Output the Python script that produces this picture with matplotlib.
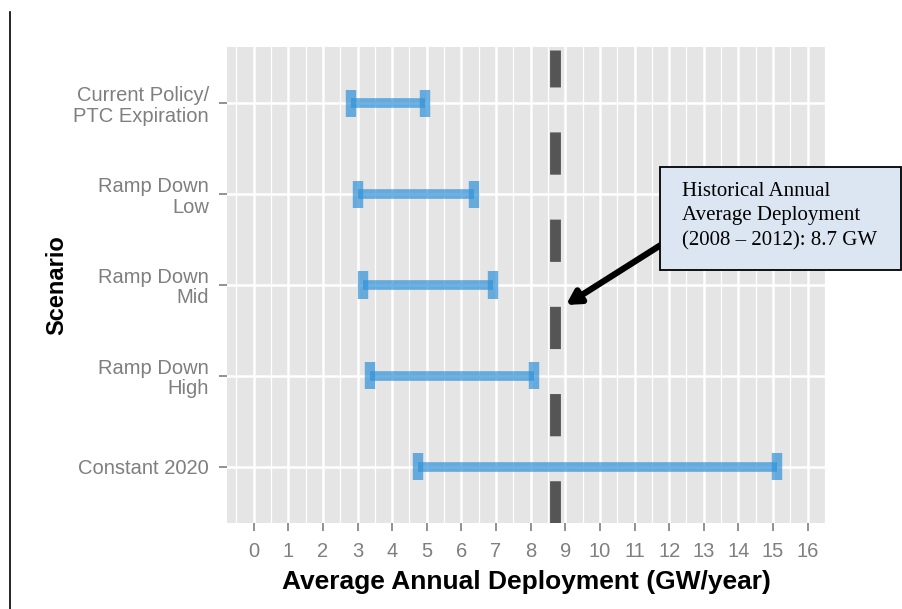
import matplotlib
matplotlib.use("Agg")
import matplotlib.pyplot as plt
from matplotlib.lines import Line2D
from matplotlib.patches import Rectangle
import numpy as np

plt.rcParams['font.family'] = ['Liberation Sans', 'DejaVu Sans']

# data
scenarios = ["Current Policy/\nPTC Expiration", "Ramp Down\nLow", "Ramp Down\nMid",
             "Ramp Down\nHigh", "Constant 2020"]
low = [2.8, 3.0, 3.15, 3.35, 4.75]
high = [4.95, 6.35, 6.9, 8.1, 15.1]
historical = 8.7
note_lines = ["Historical Annual", "Average Deployment", "(2008 \u2013 2012): 8.7 GW"]

W, H = 903, 609
fig = plt.figure(figsize=(W / 100, H / 100), dpi=100)


def px(x, y):
    # figure pixel -> figure fraction
    return x / W, 1 - y / H


ax = fig.add_axes([227 / W, 1 - 523 / H, (825 - 227) / W, (523 - 47) / H])
ax.set_facecolor('#e5e5e5')
for s in ax.spines.values():
    s.set_visible(False)

ypos = np.arange(1, len(scenarios) + 1)
ax.set_xlim(-0.77, 16.26)
ax.set_ylim(5.62, 0.38)

# grid like ggplot
ax.set_xticks(np.arange(0, 17))
ax.set_xticks(np.arange(-0.5, 16.6, 1), minor=True)
ax.set_yticks(ypos)
ax.set_yticklabels(scenarios, linespacing=1.1)
ax.grid(which='major', axis='both', color='white', lw=1.8)
ax.grid(which='minor', axis='x', color='white', lw=0.9)
ax.set_axisbelow(True)
ax.tick_params(which='minor', length=0)
ax.tick_params(which='major', colors='#7f7f7f', labelcolor='#7f7f7f',
               labelsize=14.5, length=6, width=1.2)
ax.tick_params(axis='x', pad=8)
ax.tick_params(axis='y', pad=7)

# error bars
blue = '#3192d8'
ax.hlines(ypos, low, high, color=blue, alpha=0.7, lw=7, capstyle='butt')
ax.vlines(low, ypos - 0.15, ypos + 0.15, color=blue, alpha=0.7, lw=7.5, capstyle='butt')
ax.vlines(high, ypos - 0.15, ypos + 0.15, color=blue, alpha=0.7, lw=7.5, capstyle='butt')

# historical average
ax.axvline(historical, ymin=0, ymax=0.994, color='#555555', lw=7.8,
           linestyle=(0, (3.9, 4.15)), dash_capstyle='butt')

ax.set_xlabel("Average Annual Deployment (GW/year)", fontsize=19, fontweight='bold')
ax.xaxis.set_label_coords(0.5, -0.098)
ax.set_ylabel("Scenario", fontsize=17, fontweight='bold')
ax.yaxis.set_label_coords(-0.265, 0.5)

# note box and arrow
fig.patches.append(Rectangle(px(660, 270), 241 / W, 103 / H, transform=fig.transFigure,
                             facecolor='#dce6f2', edgecolor='black', lw=1.3, zorder=5))
for i, line in enumerate(note_lines):
    x, y = px(682, 196 + 24.5 * i)
    fig.text(x, y, line, fontsize=15, family='Liberation Serif', va='baseline',
             ha='left', zorder=6)
ax.annotate('', xy=px(566, 305), xycoords='figure fraction',
            xytext=px(664, 243), textcoords='figure fraction',
            arrowprops=dict(arrowstyle='-|>,head_length=0.8,head_width=0.45',
                            color='black', lw=4.5, shrinkA=0, shrinkB=0))

# page border line at left
fig.add_artist(Line2D([10.5 / W, 10.5 / W], [0, 1 - 12 / H], color='black', lw=1.2,
                      transform=fig.transFigure))

fig.savefig('out.png', dpi=100)
